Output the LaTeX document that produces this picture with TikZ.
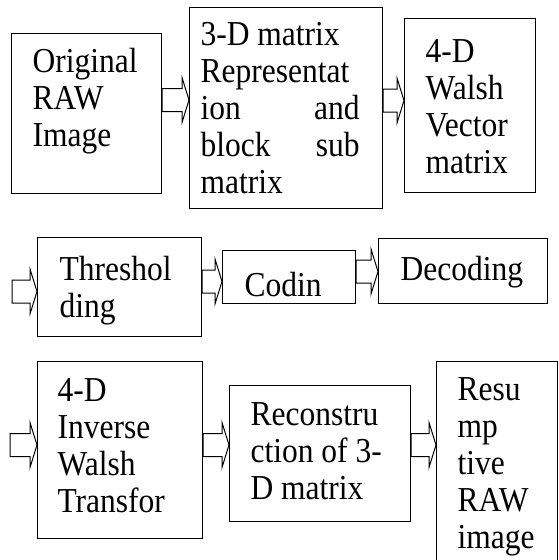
\documentclass[tikz,border=0pt]{standalone}
\usepackage{fontspec}
\setmainfont{Liberation Serif}[FakeStretch=0.9]
\usetikzlibrary{calc}
\begin{document}
\begin{tikzpicture}[x=1pt, y=-1pt, line join=miter,
		box/.style={draw, line width=1.1pt, anchor=north west, inner ysep=0pt, align=flush left, font=\fontsize{35}{37}\selectfont},
		hollow/.style={draw, line width=1pt}]
	\useasboundingbox (0,0) rectangle (558,560);
	\clip (0,0) rectangle (558,560);
	% hang 1
	\node[box, inner xsep=21pt, text width=108pt, text height=39pt, text depth=121pt] (raw) at (11,33) {Original\\RAW\\Image};
	\node[box, inner xsep=11pt, text width=171pt, text height=38pt, text depth=163pt] (rep) at (189,7) {3-D matrix\\Representat\\\makebox[159pt]{ion\hfill and}\\\makebox[159pt]{block\hfill sub}\\matrix};
	\node[box, inner xsep=21pt, text width=89pt, text height=44pt, text depth=130pt] (walsh) at (404,18) {4-D\\Walsh\\Vector\\matrix};
	% hang 2
	\coordinate (in2) at (12,291.5);
	\node[box, inner xsep=22pt, text width=120pt, text height=43pt, text depth=56pt] (thresh) at (37,237) {Threshol\\ding};
	\node[box, inner xsep=22pt, text width=89pt, text height=46pt, text depth=7pt] (codin) at (222,250) {Codin};
	\node[box, inner xsep=22pt, text width=125pt, text height=42pt, text depth=23pt] (decod) at (378,238) {Decoding};
	% hang 3
	\coordinate (in3) at (10,445);
	\node[box, inner xsep=20pt, text width=125pt, text height=40pt, text depth=137pt] (inv) at (37,361) {4-D\\Inverse\\Walsh\\Transfor};
	\node[box, inner xsep=21pt, text width=139pt, text height=40pt, text depth=96pt] (recon) at (229,385) {Reconstru\\ction of 3-\\D matrix};
	\node[box, inner xsep=21pt, text width=79pt, text height=39pt, text depth=180pt] (resu) at (436,361) {Resu\\mp\\tive\\RAW\\image};
	% mui ten rong
	\foreach \a/\b/\y in {raw/rep/100, rep/walsh/100.5, in2/thresh/291.5, thresh/codin/281.5, codin/decod/271.5, in3/inv/445, inv/recon/445, recon/resu/445}
	\draw[hollow] ($(\a.east|-0,\y)+(0,-11.5)$) -- ($(\b.west|-0,\y)+(-7,-11.5)$) -- ++(0,-11)
		-- (\b.west|-0,\y) -- ($(\b.west|-0,\y)+(-7,22.5)$) -- ++(0,-11) -- ($(\a.east|-0,\y)+(0,11.5)$) -- cycle;
\end{tikzpicture}
\end{document}
